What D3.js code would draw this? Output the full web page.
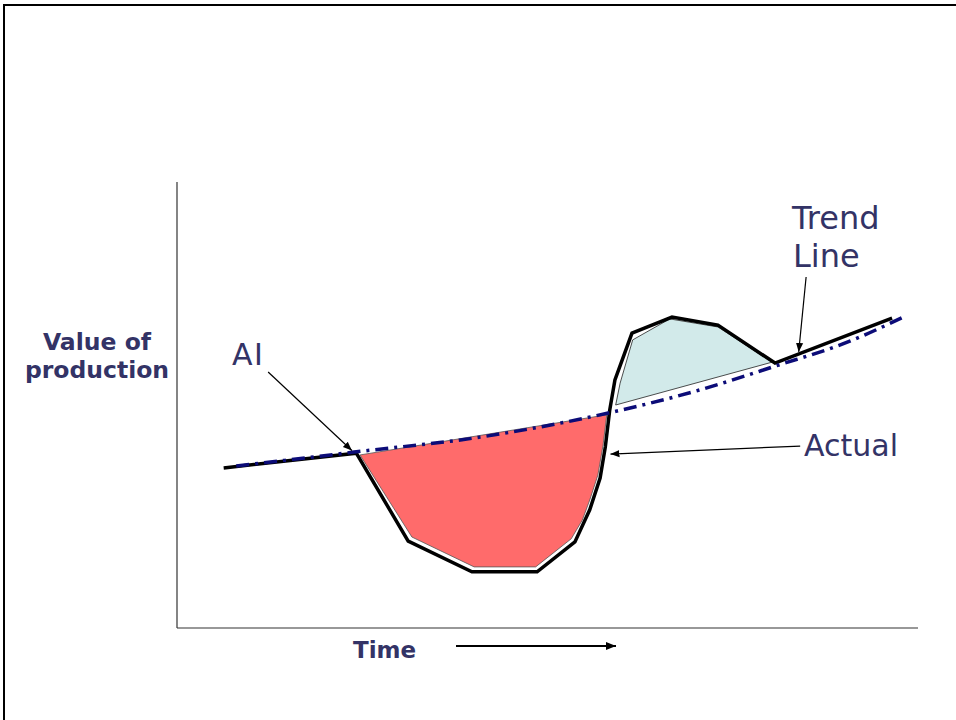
<!DOCTYPE html>
<html>
<head>
<meta charset="utf-8">
<script src="https://cdn.jsdelivr.net/npm/d3@7"></script>
<style>
html,body{margin:0;padding:0;background:#fff;}
svg{display:block;}
</style>
</head>
<body>
<svg id="chart" width="956" height="720"></svg>
<script>
// ---- data (time 0..100, value 0..100) ----
const actualTime  = [6.3, 24.2, 31.2, 39.8, 48.6, 53.7, 55.7, 57.1, 57.8, 58.4, 59.1, 61.4, 66.8, 73.0, 80.7, 96.5];
const actualValue = [35.9, 39.2, 19.5, 12.6, 12.6, 19.3, 26.5, 33.6, 40.6, 48.9, 55.6, 66.1, 69.7, 67.9, 59.4, 69.5];

const trendTime  = [8.0, 24.2, 40.9, 58.2, 70.6, 80.7, 90.8, 98.0];
const trendValue = [36.3, 39.5, 42.8, 48.2, 53.4, 58.7, 64.3, 69.7];

const lossTime  = [24.7, 58.0, 57.5, 56.8, 55.7, 54.7, 53.2, 48.4, 40.1, 31.7];
const lossValue = [38.8, 47.8, 41.0, 34.3, 28.7, 24.2, 20.0, 13.7, 13.7, 20.4];

const gainTime  = [59.2, 59.8, 61.5, 66.5, 73.0, 80.3];
const gainValue = [50.0, 54.9, 64.6, 69.3, 67.5, 59.6];

const labels = ["AI", "Trend", "Line", "Actual"];
const axisLabelY = ["Value of", "production"];
const axisLabelX = "Time";

// annotation arrows: [fromTime, fromValue, toTime, toValue]
const aiArrow     = [12.3, 57.4, 23.6, 39.8];
const trendArrow  = [84.9, 78.7, 83.9, 61.9];
const actualArrow = [84.1, 40.8, 58.5, 39.0];

// ---- drawing ----
const svg = d3.select("#chart");
const x = d3.scaleLinear().domain([0, 100]).range([177, 918]);
const y = d3.scaleLinear().domain([0, 100]).range([628, 182]);

const navy = "#333366";
const defs = svg.append("defs");

function marker(id, size){
  defs.append("marker").attr("id",id).attr("viewBox","0 0 10 10").attr("refX",10).attr("refY",5)
    .attr("markerUnits","userSpaceOnUse").attr("markerWidth",size).attr("markerHeight",size)
    .attr("orient","auto")
    .append("path").attr("d","M0,1 L10,5 L0,9 Z").attr("fill","#000");
}
marker("arrowSmall", 9);
marker("arrowTime", 10);

// frame
svg.append("path").attr("d","M4,720 L4,5 L956,5").attr("fill","none").attr("stroke","#000").attr("stroke-width",2);

// axes
svg.append("line").attr("x1",x(0)).attr("x2",x(0)).attr("y1",y(100)).attr("y2",y(0)).attr("stroke","#333").attr("stroke-width",1.2);
svg.append("line").attr("x1",x(0)).attr("x2",x(100)).attr("y1",y(0)).attr("y2",y(0)).attr("stroke","#333").attr("stroke-width",1.2);

// fills
const poly = d3.line().x(d=>x(d[0])).y(d=>y(d[1])).curve(d3.curveLinearClosed);
svg.append("path").datum(d3.zip(lossTime, lossValue)).attr("d", poly)
  .attr("fill","#ff6b6b").attr("stroke","#555").attr("stroke-width",0.8);
svg.append("path").datum(d3.zip(gainTime, gainValue)).attr("d", poly)
  .attr("fill","#d2eaea").attr("stroke","#222").attr("stroke-width",0.8);

// actual line
const line = d3.line().x(d=>x(d[0])).y(d=>y(d[1]));
svg.append("path").datum(d3.zip(actualTime, actualValue)).attr("d", line)
  .attr("fill","none").attr("stroke","#000").attr("stroke-width",3.5).attr("stroke-linejoin","miter");

// trend line
const trendLine = d3.line().x(d=>x(d[0])).y(d=>y(d[1])).curve(d3.curveMonotoneX);
svg.append("path").datum(d3.zip(trendTime, trendValue)).attr("d", trendLine)
  .attr("fill","none").attr("stroke","#0c0c78").attr("stroke-width",3.5)
  .attr("stroke-dasharray","13,6,3,6");

// annotation arrows
[aiArrow, trendArrow, actualArrow].forEach(a=>{
  svg.append("line").attr("x1",x(a[0])).attr("y1",y(a[1])).attr("x2",x(a[2])).attr("y2",y(a[3]))
    .attr("stroke","#000").attr("stroke-width",1.2).attr("marker-end","url(#arrowSmall)");
});

// labels
const font = "Verdana, 'DejaVu Sans', sans-serif";
svg.append("text").attr("x",232).attr("y",365).text(labels[0])
  .attr("font-family",font).attr("font-size",30).attr("letter-spacing",1.5).attr("fill",navy);
svg.append("text").attr("x",792).attr("y",229).text(labels[1])
  .attr("font-family",font).attr("font-size",32).attr("fill",navy);
svg.append("text").attr("x",793).attr("y",267).text(labels[2])
  .attr("font-family",font).attr("font-size",32).attr("fill",navy);
svg.append("text").attr("x",804).attr("y",456).text(labels[3])
  .attr("font-family",font).attr("font-size",30).attr("fill",navy);

axisLabelY.forEach((t,i)=>{
  svg.append("text").attr("x",97).attr("y",350+i*28).attr("text-anchor","middle").text(t)
    .attr("font-family",font).attr("font-weight","bold").attr("font-size",23.5).attr("fill",navy);
});
svg.append("text").attr("x",353).attr("y",658).text(axisLabelX)
  .attr("font-family",font).attr("font-weight","bold").attr("font-size",23).attr("fill",navy);

// time arrow
svg.append("line").attr("x1",456).attr("x2",616).attr("y1",646).attr("y2",646)
  .attr("stroke","#000").attr("stroke-width",2.2).attr("marker-end","url(#arrowTime)");
</script>
</body>
</html>
